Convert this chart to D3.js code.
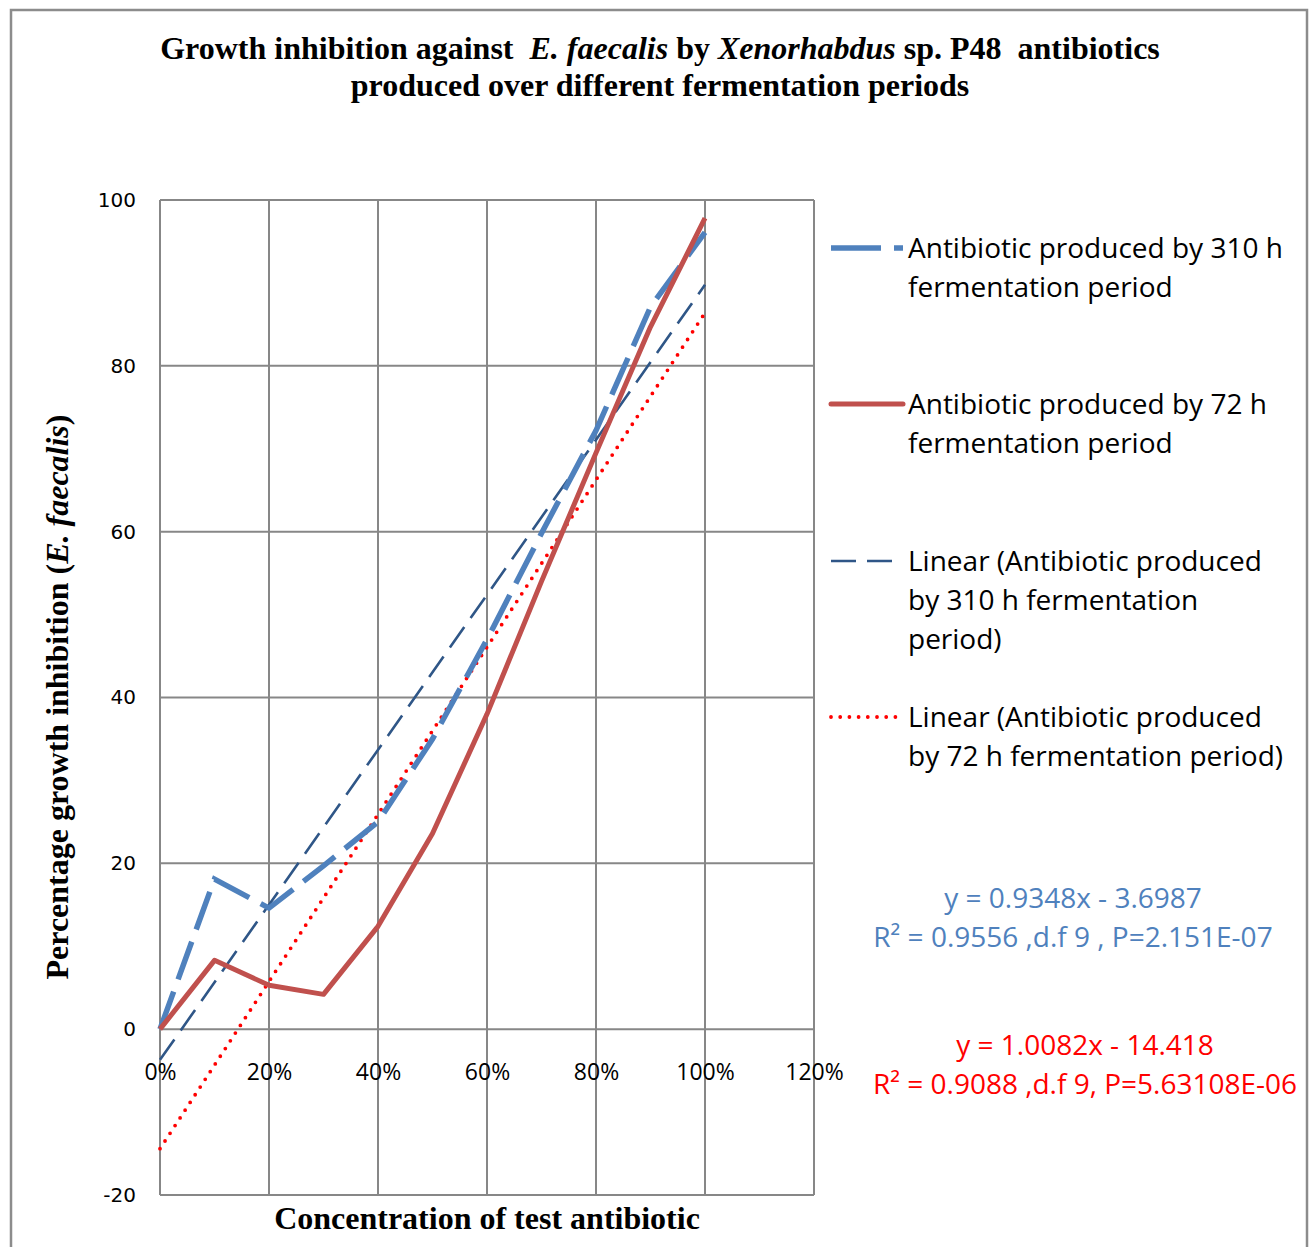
<!DOCTYPE html>
<html><head><meta charset="utf-8">
<script src="https://cdn.jsdelivr.net/npm/d3@7"></script>
<style>body{margin:0;background:#fff}svg{display:block}text{white-space:pre}</style>
</head><body>
<script>
const concentrations = [0,10,20,30,40,50,60,70,80,90,100];
const series310 = [0,18.1,14.6,19.7,25,35,47,59.8,72.2,87.1,96.1];
const series72 = [0,8.3,5.3,4.2,12.4,23.6,38,54,69.5,84.7,97.8];
const trend310 = {slope:0.9348, intercept:-3.6987};
const trend72 = {slope:1.0082, intercept:-14.418};
const xTicks = [0,20,40,60,80,100,120];
const yTicks = [-20,0,20,40,60,80,100];
const legendLabels = [
  ["Antibiotic produced by 310 h","fermentation period"],
  ["Antibiotic produced by 72 h","fermentation period"],
  ["Linear (Antibiotic produced","by 310 h fermentation","period)"],
  ["Linear (Antibiotic produced","by 72 h fermentation period)"]
];
const eq310 = ["y = 0.9348x - 3.6987","R² = 0.9556 ,d.f 9 , P=2.151E-07"];
const eq72 = ["y = 1.0082x - 14.418","R² = 0.9088 ,d.f 9, P=5.63108E-06"];

const W=1311,H=1247;
const svg=d3.select("body").append("svg").attr("width",W).attr("height",H);
svg.append("rect").attr("x",11).attr("y",10).attr("width",1296).attr("height",1250)
  .attr("fill","none").attr("stroke","#8c8c8c").attr("stroke-width",2.5);

const x=d3.scaleLinear().domain([0,120]).range([160,814]);
const y=d3.scaleLinear().domain([-20,100]).range([1195,200]);
const grid="#878787";

svg.append("g").selectAll("line").data(xTicks).join("line")
  .attr("x1",d=>x(d)).attr("x2",d=>x(d)).attr("y1",y(100)).attr("y2",y(-20))
  .attr("stroke",grid).attr("stroke-width",2);
svg.append("g").selectAll("line").data(yTicks).join("line")
  .attr("x1",x(0)).attr("x2",x(120)).attr("y1",d=>y(d)).attr("y2",d=>y(d))
  .attr("stroke",grid).attr("stroke-width",2);

const yAxis=svg.append("g").attr("transform",`translate(${x(0)-24},0)`)
  .call(d3.axisLeft(y).tickValues(yTicks).tickFormat(d=>String(d)).tickSize(0).tickPadding(0));
yAxis.select(".domain").remove();
yAxis.selectAll("text").attr("font-family","DejaVu Sans").attr("font-size",20).attr("fill","#000");

const xAxis=svg.append("g").attr("transform",`translate(0,${y(0)})`)
  .call(d3.axisBottom(x).tickValues(xTicks).tickFormat(d=>d+"%").tickSize(0).tickPadding(0));
xAxis.select(".domain").remove();
xAxis.selectAll("text").attr("font-family","Open Sans").attr("font-size",23).attr("fill","#000").attr("dy","2.2em");

const trendLine=t=>[{x:0,v:t.intercept},{x:100,v:t.slope*100+t.intercept}];
const lg=d3.line().x(d=>x(d.x)).y(d=>y(d.v));
svg.append("path").datum(trendLine(trend310)).attr("d",lg).attr("fill","none")
  .attr("stroke","#2f5687").attr("stroke-width",2.6).attr("stroke-dasharray","25,11");
svg.append("path").datum(trendLine(trend72)).attr("d",lg).attr("fill","none")
  .attr("stroke","#ff0000").attr("stroke-width",3.8).attr("stroke-linecap","round").attr("stroke-dasharray","0,9.2");

const line=d3.line().x((d,i)=>x(concentrations[i])).y(d=>y(d));
svg.append("path").datum(series310).attr("d",line).attr("fill","none")
  .attr("stroke","#4f81bd").attr("stroke-width",5.5).attr("stroke-dasharray","40,13");
svg.append("path").datum(series72).attr("d",line).attr("fill","none")
  .attr("stroke","#c0504d").attr("stroke-width",5).attr("stroke-linejoin","round");

const title=svg.append("text").attr("text-anchor","middle").attr("font-family","Liberation Serif")
  .attr("font-weight","bold").attr("font-size",32).attr("fill","#000");
const t1=title.append("tspan").attr("x",660).attr("y",59);
t1.append("tspan").text("Growth inhibition against  ");
t1.append("tspan").attr("font-style","italic").text("E. faecalis");
t1.append("tspan").text(" by ");
t1.append("tspan").attr("font-style","italic").text("Xenorhabdus");
t1.append("tspan").text(" sp. P48  antibiotics");
title.append("tspan").attr("x",660).attr("y",96).text("produced over different fermentation periods");

svg.append("text").attr("x",487).attr("y",1229).attr("text-anchor","middle")
  .attr("font-family","Liberation Serif").attr("font-weight","bold").attr("font-size",32)
  .text("Concentration of test antibiotic");
const yt=svg.append("text").attr("transform","translate(68,697) rotate(-90)").attr("text-anchor","middle")
  .attr("font-family","Liberation Serif").attr("font-weight","bold").attr("font-size",32);
yt.append("tspan").text("Percentage growth inhibition (");
yt.append("tspan").attr("font-style","italic").text("E. faecalis");
yt.append("tspan").text(")");

const legY=[248,404,561,717];
const lstyles=[
  {c:"#4f81bd",w:5.5,da:"50,13"},
  {c:"#c0504d",w:5,da:null},
  {c:"#2f5687",w:2.6,da:"25,11"},
  {c:"#ff0000",w:3.8,da:"0,9.2",cap:"round"}
];
legendLabels.forEach((lab,i)=>{
  const s=lstyles[i];
  svg.append("line").attr("x1",831).attr("x2",s.cap?900:903).attr("y1",legY[i]).attr("y2",legY[i])
    .attr("stroke",s.c).attr("stroke-width",s.w).attr("stroke-dasharray",s.da)
    .attr("stroke-linecap",s.cap||(i===1?"round":"butt"));
  const tx=svg.append("text").attr("font-family","Open Sans").attr("font-size",28).attr("fill","#000");
  lab.forEach((l,j)=>tx.append("tspan").attr("x",908).attr("y",legY[i]+10+j*39).text(l));
});

function eq(lines,cx,y0,col){
  const t=svg.append("text").attr("text-anchor","middle").attr("font-family","Open Sans").attr("font-size",28).attr("fill",col);
  lines.forEach((l,j)=>t.append("tspan").attr("x",cx).attr("y",y0+j*39).text(l));
}
eq(eq310,1073,908,"#4f81bd");
eq(eq72,1085,1055,"#ff0000");
</script>
</body></html>
